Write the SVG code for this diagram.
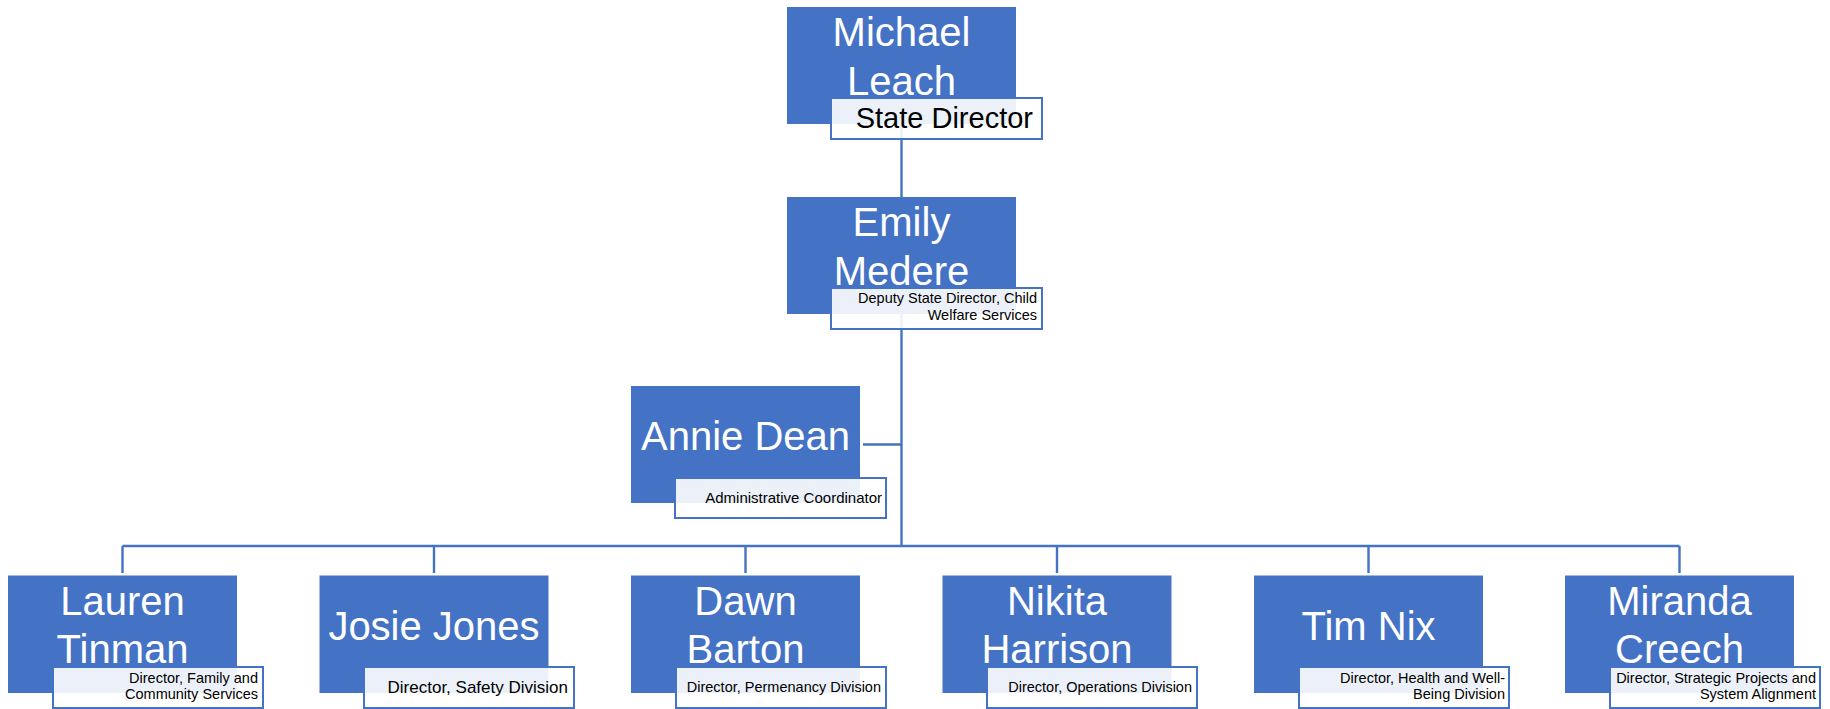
<svg xmlns="http://www.w3.org/2000/svg" width="1830" height="709" viewBox="0 0 1830 709">
<style>
.box{fill:#4472C4;}
.lab{fill:#ffffff;fill-opacity:0.9;stroke:#4472C4;stroke-width:2;}
.name{font-family:"Liberation Sans",Arial,sans-serif;font-size:40px;fill:#ffffff;text-anchor:middle;}
.t{font-family:"Liberation Sans",Arial,sans-serif;font-size:14.5px;fill:#000000;text-anchor:end;}
.con{stroke:#4472C4;stroke-width:2.4;fill:none;}
</style>
<rect width="1830" height="709" fill="#ffffff"/>
<g id="connectors">
<line class="con" x1="901.5" y1="124" x2="901.5" y2="197"/>
<line class="con" x1="901.5" y1="313" x2="901.5" y2="546"/>
<line class="con" x1="863" y1="444.5" x2="901.5" y2="444.5"/>
<line class="con" x1="122.5" y1="546" x2="1679.5" y2="546"/>
<line class="con" x1="122.5" y1="546" x2="122.5" y2="573"/>
<line class="con" x1="434" y1="546" x2="434" y2="573"/>
<line class="con" x1="745.5" y1="546" x2="745.5" y2="573"/>
<line class="con" x1="1057" y1="546" x2="1057" y2="573"/>
<line class="con" x1="1368.5" y1="546" x2="1368.5" y2="573"/>
<line class="con" x1="1679.5" y1="546" x2="1679.5" y2="573"/>
</g>
<g id="michael">
<rect class="box" x="787" y="7" width="229" height="117"/>
<text class="name" x="901.5" y="46">Michael</text>
<text class="name" x="901.5" y="95">Leach</text>
<rect class="lab" x="831" y="98" width="211" height="41"/>
<text class="t" x="1033" y="128" style="font-size:29px">State Director</text>
</g>
<g id="emily">
<rect class="box" x="787" y="197" width="229" height="117"/>
<text class="name" x="901.5" y="236">Emily</text>
<text class="name" x="901.5" y="285">Medere</text>
<rect class="lab" x="831" y="288" width="211" height="41"/>
<text class="t" x="1037" y="303">Deputy State Director, Child</text>
<text class="t" x="1037" y="320">Welfare Services</text>
</g>
<g id="annie">
<rect class="box" x="631" y="386" width="229" height="117"/>
<text class="name" x="745.5" y="450">Annie Dean</text>
<rect class="lab" x="675" y="478" width="211" height="40"/>
<text class="t" x="882" y="503" style="font-size:15px">Administrative Coordinator</text>
</g>
<g id="lauren">
<rect class="box" x="8" y="575.5" width="229" height="117.5"/>
<text class="name" x="122.5" y="615">Lauren</text>
<text class="name" x="122.5" y="663">Tinman</text>
<rect class="lab" x="53" y="667" width="210" height="41"/>
<text class="t" x="258" y="683">Director, Family and</text>
<text class="t" x="258" y="699">Community Services</text>
</g>
<g id="josie">
<rect class="box" x="319.5" y="575.5" width="229" height="117.5"/>
<text class="name" x="434" y="640">Josie Jones</text>
<rect class="lab" x="364" y="667" width="210" height="41"/>
<text class="t" x="568" y="693" style="font-size:17px">Director, Safety Division</text>
</g>
<g id="dawn">
<rect class="box" x="631" y="575.5" width="229" height="117.5"/>
<text class="name" x="745.5" y="615">Dawn</text>
<text class="name" x="745.5" y="663">Barton</text>
<rect class="lab" x="676" y="667" width="210" height="41"/>
<text class="t" x="881" y="692">Director, Permenancy Division</text>
</g>
<g id="nikita">
<rect class="box" x="942.5" y="575.5" width="229" height="117.5"/>
<text class="name" x="1057" y="615">Nikita</text>
<text class="name" x="1057" y="663">Harrison</text>
<rect class="lab" x="987" y="667" width="210" height="41"/>
<text class="t" x="1192" y="692">Director, Operations Division</text>
</g>
<g id="tim">
<rect class="box" x="1254" y="575.5" width="229" height="117.5"/>
<text class="name" x="1368.5" y="640">Tim Nix</text>
<rect class="lab" x="1299" y="667" width="210" height="41"/>
<text class="t" x="1505" y="683">Director, Health and Well-</text>
<text class="t" x="1505" y="699">Being Division</text>
</g>
<g id="miranda">
<rect class="box" x="1565" y="575.5" width="229" height="117.5"/>
<text class="name" x="1679.5" y="615">Miranda</text>
<text class="name" x="1679.5" y="663">Creech</text>
<rect class="lab" x="1610" y="667" width="210" height="41"/>
<text class="t" x="1816" y="683">Director, Strategic Projects and</text>
<text class="t" x="1816" y="699">System Alignment</text>
</g>
</svg>
